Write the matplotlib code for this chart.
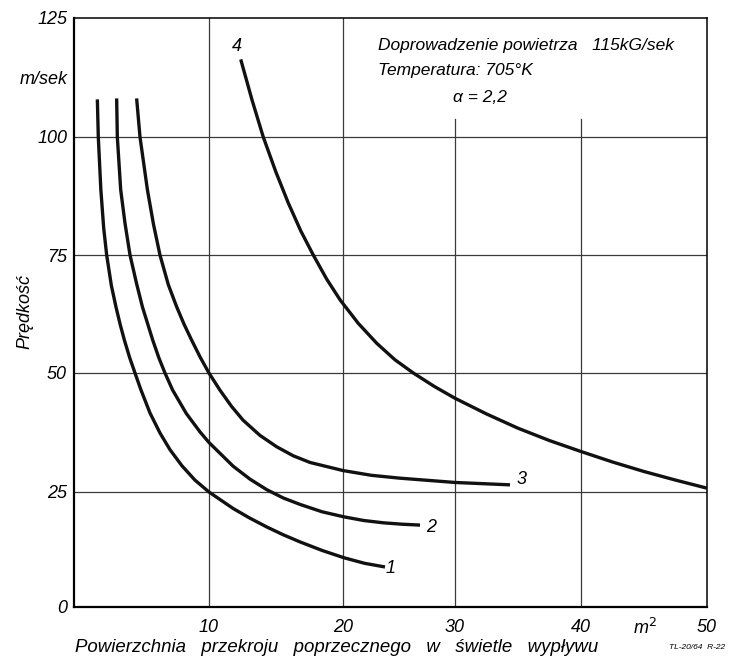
import matplotlib.pyplot as plt
import numpy as np

# values: area [m2] -> velocity [m/sek]
area_1 = [1.73, 1.80, 1.99, 2.20, 2.42, 2.77, 3.11, 3.42, 3.73, 4.12, 4.52, 4.94, 5.63, 6.37,
          7.11, 8.0, 8.96, 10, 11.81, 13.06, 14.31, 15.54, 16.79, 18.43, 20.09, 21.92, 23.75]
vel_1 = [107.9, 100, 88.8, 80.7, 75, 68.5, 64.0, 60.3, 57.0, 53.3, 50, 46.6, 41.6, 37.4,
         33.9, 30.5, 27.5, 25, 21.4, 19.3, 17.4, 15.7, 14.15, 12.3, 10.7, 9.5, 8.7]

area_2 = [3.16, 3.21, 3.46, 3.78, 4.15, 4.64, 5.07, 5.83, 6.29, 6.74, 7.31, 8.32, 9.33, 10,
          11.81, 13.06, 14.30, 15.54, 16.79, 18.43, 20.07, 21.85, 23.6, 25.24, 26.88]
vel_2 = [108.1, 100, 88.8, 81.7, 75, 68.9, 64.0, 57.0, 53.2, 50, 46.4, 41.5, 37.65, 35.4,
         30.4, 27.7, 25.5, 23.7, 22.3, 20.7, 19.6, 18.8, 18.3, 18.0, 17.8]

area_3 = [4.64, 4.89, 5.44, 5.89, 6.37, 6.99, 7.61, 8.16, 8.71, 9.36, 10, 10.82, 11.68, 12.54,
          13.8, 15.05, 16.29, 17.54, 20, 22.54, 25.09, 30, 34.37]
vel_3 = [108.1, 100, 88.8, 81.5, 75, 68.7, 64.0, 60.3, 57.0, 53.3, 50, 46.4, 43.0, 40.1,
         36.9, 34.5, 32.6, 31.2, 29.5, 28.5, 27.9, 27.0, 26.5]

area_4 = [12.37, 13.21, 14.05, 14.99, 15.92, 16.85, 17.78, 18.78, 19.78, 21.37, 23.01, 24.64,
          26.28, 28.14, 30, 32.5, 35, 37.5, 40, 42.5, 45, 47.5, 50]
vel_4 = [116.3, 107.8, 100, 92.6, 86.0, 80.1, 75, 69.9, 65.5, 60.5, 56.3, 52.8,
         50, 47.2, 44.7, 41.4, 38.4, 35.8, 33.5, 31.3, 29.3, 27.5, 25.8]

curves = [(area_1, vel_1, '1'), (area_2, vel_2, '2'), (area_3, vel_3, '3'), (area_4, vel_4, '4')]

x_ticks = [10, 20, 30, 40, 50]
y_ticks = [0, 25, 50, 75, 100, 125]
x_grid = [10, 20, 30, 40]
x_grid_top = [125, 125, 103.8, 103.8]   # 30 and 40 lines stop under the note
y_grid = [25, 50, 75, 100]

# the hand-drawn grid is not evenly spaced, so both axes use a piecewise scale
x_vals = [0, 10, 20, 30, 40, 50]
x_paper = [0, 10.66, 21.25, 30.09, 40.05, 50]
y_vals = [0, 25, 50, 75, 100, 125]
y_paper = [0, 24.41, 49.66, 74.70, 99.75, 125]

def xf(v):
    return np.interp(v, x_vals, x_paper)

def xi(v):
    return np.interp(v, x_paper, x_vals)

def yf(v):
    return np.interp(v, y_vals, y_paper)

def yi(v):
    return np.interp(v, y_paper, y_vals)

txt = ['Liberation Sans', 'DejaVu Sans']
num = ['Liberation Sans Narrow', 'Liberation Sans', 'DejaVu Sans']

fig = plt.figure(figsize=(7.33, 6.59), dpi=100)
ax = fig.add_axes([0.10096, 0.07891, 0.86357, 0.89378])
ax.set_xscale('function', functions=(xf, xi))
ax.set_yscale('function', functions=(yf, yi))
ax.set_xlim(0, 50)
ax.set_ylim(0, 125)

# grid
for gx, top in zip(x_grid, x_grid_top):
    ax.plot([gx, gx], [0, top], color='#3a3a3a', lw=0.9, zorder=1)
for gy in y_grid:
    ax.plot([0, 50], [gy, gy], color='#3a3a3a', lw=0.9, zorder=1)

# curves
offsets = {'1': (4, -1), '2': (8, -1.4), '3': (8.6, 3.6), '4': (-2.9, 9)}
for a, v, name in curves:
    ax.plot(a, v, color='#111111', lw=2.4, solid_capstyle='butt',
            solid_joinstyle='round', zorder=3)
    if name == '4':
        xy = (a[0], v[0])
    else:
        xy = (a[-1], v[-1])
    ax.annotate(name, xy=xy, xytext=offsets[name], textcoords='offset points',
                ha='center', va='center', fontsize=13, style='italic', family=num)

# spines
for side in ['left', 'bottom']:
    ax.spines[side].set_linewidth(1.6)
for side in ['top', 'right']:
    ax.spines[side].set_linewidth(1.1)

ax.set_xticks(x_ticks)
ax.set_xticklabels([str(t) for t in x_ticks])
ax.set_yticks(y_ticks)
ax.set_yticklabels([str(t) for t in y_ticks])
ax.minorticks_off()
ax.tick_params(length=0, labelsize=13)
ax.tick_params(axis='x', pad=9)
ax.tick_params(axis='y', pad=5)
for lab in ax.get_xticklabels() + ax.get_yticklabels():
    lab.set_fontstyle('italic')
    lab.set_family(num)

ax.text(0.902, -0.036, 'm$^2$', transform=ax.transAxes, ha='center', va='center',
        fontsize=13, style='italic', family=txt)
ax.text(-0.0095, 0.895, 'm/sek', transform=ax.transAxes, ha='right', va='center',
        fontsize=13, style='italic', family=txt)
fig.text(0.034, 0.527, 'Prędkość', rotation=90, ha='center', va='center',
         fontsize=13, style='italic', family=txt)
fig.text(0.102, 0.0167, 'Powierzchnia   przekroju   poprzecznego   w   świetle   wypływu',
         ha='left', va='center', fontsize=13.4, style='italic', family=txt)
fig.text(0.989, 0.0167, 'TL-20/64  R-22', ha='right', va='center', fontsize=6,
         style='italic', family=txt)

# note in upper right
fig.text(0.5157, 0.9317, 'Doprowadzenie powietrza   115kG/sek', ha='left', va='center',
         fontsize=12.5, style='italic', family=txt)
fig.text(0.5157, 0.8923, 'Temperatura: 705°K', ha='left', va='center',
         fontsize=12.5, style='italic', family=txt)
fig.text(0.618, 0.8528, 'α = 2,2', ha='left', va='center',
         fontsize=12.5, style='italic', family=txt)

fig.savefig('out.png', dpi=100)
